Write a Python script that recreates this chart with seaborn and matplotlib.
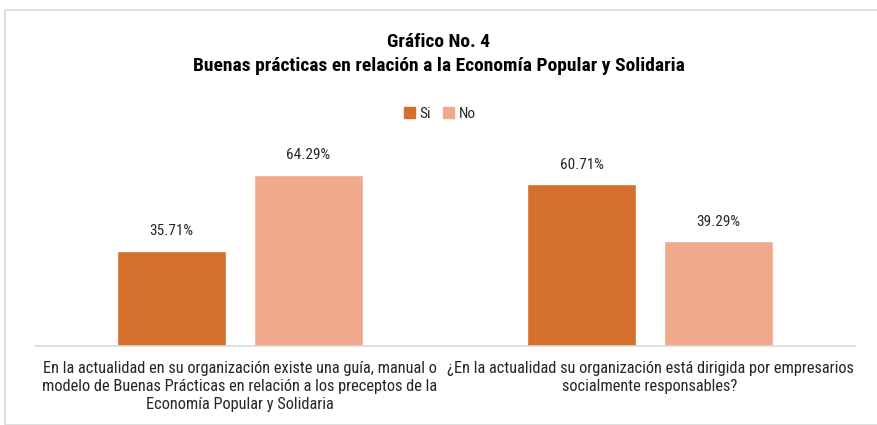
import pandas as pd
import matplotlib.pyplot as plt
import seaborn as sns
from matplotlib.patches import Rectangle

# Data
preguntas = [
    'En la actualidad en su organización existe una guía, manual o\n'
    'modelo de Buenas Prácticas en relación a los preceptos de la\n'
    'Economía Popular y Solidaria',
    '¿En la actualidad su organización está dirigida por empresarios\n'
    'socialmente responsables?',
]
si = [35.71, 60.71]
no = [64.29, 39.29]
respuestas = ['Si', 'No']
colores = {'Si': '#D46F2C', 'No': '#F0A98B'}

data = pd.DataFrame({
    'Pregunta': preguntas * 2,
    'Respuesta': ['Si'] * len(si) + ['No'] * len(no),
    'Porcentaje': si + no,
})

sns.set_style('white')
plt.rcParams['font.family'] = ['Roboto Condensed', 'Roboto', 'DejaVu Sans']

fig = plt.figure(figsize=(8.77, 4.25), dpi=100)
ax = fig.add_axes([35 / 877, 79 / 425, 820 / 877, 213 / 425])

sns.barplot(data=data, x='Pregunta', y='Porcentaje', hue='Respuesta',
            hue_order=respuestas, palette=colores, width=0.666, gap=0.2,
            saturation=1, ax=ax, legend=False)

for c in ax.containers:
    ax.bar_label(c, fmt='%.2f%%', padding=9, fontsize=11, color='#262626')

ax.set_xlim(-0.5, 1.5)
ax.set_ylim(0, 80)
ax.set_yticks([])
ax.set_xlabel('')
ax.set_ylabel('')
ax.tick_params(axis='x', length=0, labelsize=11.8, labelcolor='#262626', pad=11)
for lbl in ax.get_xticklabels():
    lbl.set_linespacing(1.22)
for s in ['top', 'right', 'left']:
    ax.spines[s].set_visible(False)
ax.spines['bottom'].set_color('#D9D9D9')
ax.spines['bottom'].set_linewidth(1.2)

# Title
fig.text(0.5, 1 - 42 / 425, 'Gráfico No. 4', ha='center', va='center',
         fontsize=14, fontweight='bold', color='#000000')
fig.text(0.5, 1 - 66 / 425, 'Buenas prácticas en relación a la Economía Popular y Solidaria',
         ha='center', va='center', fontsize=14, fontweight='bold', color='#000000')

# Legend
handles = [Rectangle((0, 0), 1, 1, color=colores[r]) for r in respuestas]
fig.legend(handles, respuestas, loc='center', bbox_to_anchor=(440 / 877, 1 - 114 / 425),
           ncol=2, frameon=False, fontsize=11, handlelength=0.7, handleheight=0.7,
           handletextpad=0.3, columnspacing=0.8, labelcolor='#262626')

# Outer chart border
fig.patches.append(Rectangle((5 / 877, 0), 1, 1 - 10 / 425, transform=fig.transFigure,
                             fill=False, edgecolor='#D9D9D9', linewidth=1.2))

fig.savefig('out.png', dpi=100)
plt.close()
